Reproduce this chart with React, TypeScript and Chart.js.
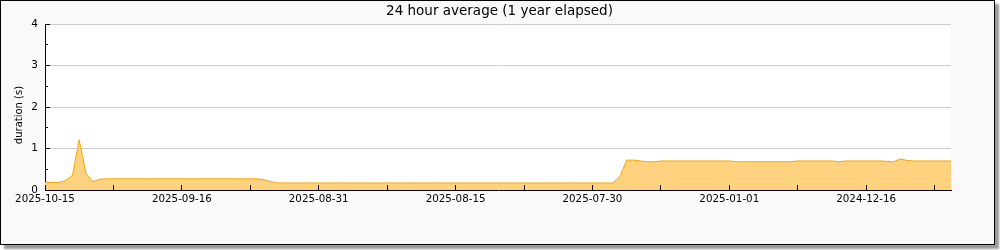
import React, { useEffect, useRef } from 'react';
import { Chart, registerables } from 'chart.js';

Chart.register(...registerables);

const TITLE = '24 hour average (1 year elapsed)';
const Y_TITLE = 'duration (s)';

// x tick labels (one label on every second tick)
const tickLabels = ['2025-10-15', '2025-09-16', '2025-08-31', '2025-08-15', '2025-07-30', '2025-01-01', '2024-12-16'];

// y axis
const yMajorTicks = [0, 1, 2, 3, 4];
const yMinorTicks = [0.5, 1.5, 2.5, 3.5];

// samples per tick interval and the visible extent (in samples)
const SAMPLES_PER_TICK = 10;
const X_EXTENT = 132.4;

// 24 hour average duration (s), evenly spaced samples
const durations = [
  0.18, 0.18, 0.18, 0.23, 0.35, 1.21, 0.40, 0.20, 0.26, 0.27,
  0.27, 0.27, 0.27, 0.27, 0.27, 0.27, 0.27, 0.27, 0.27, 0.27,
  0.27, 0.27, 0.27, 0.27, 0.27, 0.27, 0.27, 0.27, 0.27, 0.27,
  0.27, 0.27, 0.25, 0.20, 0.17, 0.17, 0.17, 0.17, 0.17, 0.17,
  0.17, 0.17, 0.17, 0.17, 0.17, 0.17, 0.17, 0.17, 0.17, 0.17,
  0.17, 0.17, 0.17, 0.17, 0.17, 0.17, 0.17, 0.17, 0.17, 0.17,
  0.17, 0.17, 0.17, 0.17, 0.17, 0.17, 0.17, 0.17, 0.17, 0.17,
  0.17, 0.17, 0.17, 0.17, 0.17, 0.17, 0.17, 0.17, 0.17, 0.17,
  0.17, 0.17, 0.17, 0.17, 0.32, 0.72, 0.72, 0.70, 0.68, 0.68,
  0.70, 0.70, 0.70, 0.70, 0.70, 0.70, 0.70, 0.70, 0.70, 0.70,
  0.70, 0.68, 0.68, 0.68, 0.68, 0.68, 0.68, 0.68, 0.68, 0.68,
  0.70, 0.70, 0.70, 0.70, 0.70, 0.70, 0.68, 0.70, 0.70, 0.70,
  0.70, 0.70, 0.70, 0.69, 0.68, 0.75, 0.71, 0.70, 0.70, 0.70,
  0.70, 0.70, 0.70, 0.70,
];

const sampleIndex = durations.map((_, i) => i);

const FONT = '"DejaVu Sans", sans-serif';
const TEXT_COLOR = '#000';

const decorPlugin = {
  id: 'decor',
  beforeDraw(chart: any) {
    const { ctx, chartArea } = chart;
    ctx.save();
    ctx.fillStyle = '#ffffff';
    ctx.fillRect(chartArea.left, chartArea.top, chartArea.right - chartArea.left, chartArea.bottom - chartArea.top);
    ctx.restore();
  },
  afterDraw(chart: any) {
    const { ctx, chartArea } = chart;
    const x = chart.scales.x;
    const y = chart.scales.y;
    ctx.save();
    ctx.strokeStyle = '#000';
    ctx.lineWidth = 1;
    ctx.beginPath();
    x.ticks.forEach((t: any) => {
      const px = Math.round(x.getPixelForValue(t.value) - 0.5) + 0.5;
      ctx.moveTo(px, chartArea.bottom);
      ctx.lineTo(px, chartArea.bottom - 5);
    });
    yMajorTicks.forEach((v) => {
      const py = Math.round(y.getPixelForValue(v) - 0.5) + 0.5;
      ctx.moveTo(chartArea.left, py);
      ctx.lineTo(chartArea.left + 5, py);
    });
    yMinorTicks.forEach((v) => {
      const py = Math.round(y.getPixelForValue(v) - 0.5) + 0.5;
      ctx.moveTo(chartArea.left, py);
      ctx.lineTo(chartArea.left + 3, py);
    });
    ctx.stroke();

    ctx.fillStyle = TEXT_COLOR;
    ctx.textAlign = 'center';
    ctx.textBaseline = 'middle';
    ctx.font = `13.5px ${FONT}`;
    ctx.fillText(TITLE, chart.width / 2 + 2, 10.5);

    ctx.translate(18, 114);
    ctx.rotate(-Math.PI / 2);
    ctx.font = `10px ${FONT}`;
    ctx.fillText(Y_TITLE, 0, 0);
    ctx.restore();
  },
};

export default function App() {
  const ref = useRef<HTMLCanvasElement>(null);

  useEffect(() => {
    if (!ref.current) return;
    const chart = new Chart(ref.current, {
      type: 'line',
      data: {
        labels: sampleIndex,
        datasets: [
          {
            data: durations,
            borderColor: '#f7a800',
            backgroundColor: '#ffd27f',
            borderWidth: 1,
            fill: 'origin',
            pointRadius: 0,
            tension: 0,
          },
        ],
      },
      options: {
        animation: false,
        responsive: false,
        maintainAspectRatio: false,
        layout: { padding: { left: 0, top: 23, right: 43, bottom: 0 } },
        plugins: {
          legend: { display: false },
          title: { display: false },
          tooltip: { enabled: false },
        },
        scales: {
          x: {
            type: 'linear',
            min: 0,
            max: X_EXTENT,
            afterFit: (s: any) => {
              s.height = 54;
            },
            grid: { display: false, drawTicks: false },
            border: { color: '#000', width: 1 },
            ticks: {
              stepSize: SAMPLES_PER_TICK,
              includeBounds: false,
              autoSkip: false,
              maxRotation: 0,
              padding: 3,
              color: TEXT_COLOR,
              font: { family: FONT, size: 10.3 },
              callback: (v: any) => {
                const n = Math.round(Number(v) / SAMPLES_PER_TICK);
                return n % 2 === 0 ? tickLabels[n / 2] ?? '' : '';
              },
            },
          },
          y: {
            min: 0,
            max: 4,
            afterFit: (s: any) => {
              s.width = 44;
            },
            grid: {
              drawTicks: false,
              color: (c: any) => (c.tick && c.tick.value === 0 ? 'rgba(0,0,0,0)' : '#cccccc'),
            },
            border: { color: '#000', width: 1 },
            ticks: {
              stepSize: 1,
              padding: 7,
              color: TEXT_COLOR,
              font: { family: FONT, size: 10.5 },
            },
          },
        },
      },
      plugins: [decorPlugin],
    } as any);
    return () => chart.destroy();
  }, []);

  return (
    <div
      style={{
        position: 'absolute',
        left: 0,
        top: 0,
        width: 993,
        height: 243,
        border: '1px solid #000',
        background: '#f9f9f9',
        boxShadow: '4px 4px 2px #999',
      }}
    >
      <canvas ref={ref} width={993} height={243} style={{ display: 'block', width: 993, height: 243 }} />
    </div>
  );
}
